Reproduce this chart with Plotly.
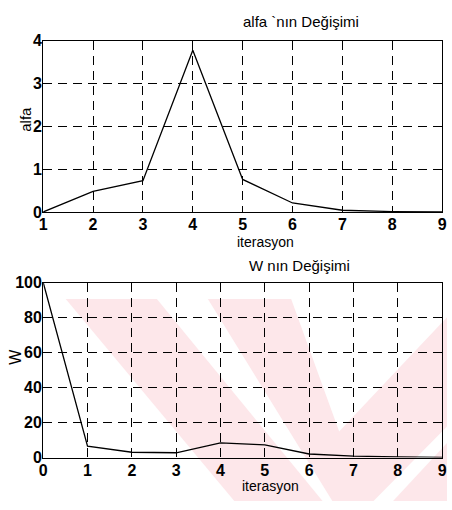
import plotly.graph_objects as go

# Data
alfa_iter = [1, 2, 3, 4, 5, 6, 7, 8, 9]
alfa_vals = [0.0, 0.48, 0.73, 3.78, 0.76, 0.21, 0.04, 0.01, 0.0]

w_iter = [0, 1, 2, 3, 4, 5, 6, 7, 8, 9]
w_vals = [100, 6.5, 3.0, 2.7, 8.3, 7.2, 2.0, 0.8, 0.3, 0.1]

alfa_ticks = [0, 1, 2, 3, 4]
w_ticks = [0, 20, 40, 60, 80, 100]

alfa_title = "alfa `nın Değişimi"
w_title = "W nın Değişimi"
x_label = "iterasyon"

W, H = 452, 510
FONT = "Liberation Sans"

fig = go.Figure()
fig.add_trace(go.Scatter(x=alfa_iter, y=alfa_vals, mode="lines",
                         line=dict(color="black", width=1.3), xaxis="x", yaxis="y"))
fig.add_trace(go.Scatter(x=w_iter, y=w_vals, mode="lines",
                         line=dict(color="black", width=1.3), xaxis="x2", yaxis="y2"))

L, R = 40, 447
xdom = [L / W, R / W]
top_dom = [1 - 211 / H, 1 - 34 / H]
bot_dom = [1 - 465 / H, 1 - 284 / H]

axcommon = dict(showline=True, linecolor="black", linewidth=1.2, mirror="ticks",
                showgrid=True, gridcolor="black", gridwidth=1, griddash="9px,6px",
                zeroline=False, ticks="inside", ticklen=6, tickcolor="black", tickwidth=1,
                tickfont=dict(family=FONT, size=16, color="black", weight="bold"),
                fixedrange=True)

fig.update_layout(
    width=W, height=H, margin=dict(l=0, r=0, t=0, b=0),
    paper_bgcolor="white", plot_bgcolor="rgba(0,0,0,0)", showlegend=False,
    font=dict(family=FONT, color="black"),
    xaxis=dict(domain=xdom, anchor="y", range=[1, 9], tickvals=alfa_iter, ticklabelstandoff=-2, **axcommon),
    yaxis=dict(domain=top_dom, anchor="x", range=[0, 4], tickvals=alfa_ticks, ticklabelstandoff=-3, **axcommon),
    xaxis2=dict(domain=xdom, anchor="y2", range=[0, 9], tickvals=w_iter, ticklabelstandoff=-2, **axcommon),
    yaxis2=dict(domain=bot_dom, anchor="x2", range=[0, 100], tickvals=w_ticks, ticklabelstandoff=-3, **axcommon),
)

# watermark (scan background) in pixel-based paper coordinates
def px(x, y):
    return f"{x / W:.4f},{1 - y / H:.4f}"

pink = "#fde7ea"
polys = [
    [(63, 301), (156, 301), (325, 510), (235, 510)],
    [(208, 301), (293, 301), (342, 438), (452, 320), (452, 433), (377, 510), (335, 510)],
    [(397, 510), (452, 510), (452, 450)],
]
shapes = []
for poly in polys:
    path = "M " + " L ".join(px(x, y) for x, y in poly) + " Z"
    shapes.append(dict(type="path", xref="paper", yref="paper", path=path,
                       fillcolor=pink, line=dict(width=0), layer="below"))
fig.update_layout(shapes=shapes)

ann = [
    dict(text=alfa_title, x=303 / W, y=1 - 14 / H, size=15),
    dict(text=w_title, x=302 / W, y=1 - 266 / H, size=15),
    dict(text=x_label, x=267 / W, y=1 - 242 / H, size=14),
    dict(text=x_label, x=272 / W, y=1 - 494 / H, size=14),
]
for a in ann:
    fig.add_annotation(text=a["text"], x=a["x"], y=a["y"], xref="paper", yref="paper",
                       showarrow=False, xanchor="center", yanchor="middle",
                       font=dict(family=FONT, size=a["size"], color="black"))
fig.add_annotation(text="alfa", x=22 / W, y=1 - 115 / H, xref="paper", yref="paper",
                   showarrow=False, textangle=-90, xanchor="center", yanchor="middle",
                   font=dict(family="Liberation Sans Narrow, " + FONT, size=15, color="black"))
fig.add_annotation(text="W", x=12 / W, y=1 - 361 / H, xref="paper", yref="paper",
                   showarrow=False, textangle=-90, xanchor="center", yanchor="middle",
                   font=dict(family=FONT, size=16, color="black"))

fig.write_html("out.html")
